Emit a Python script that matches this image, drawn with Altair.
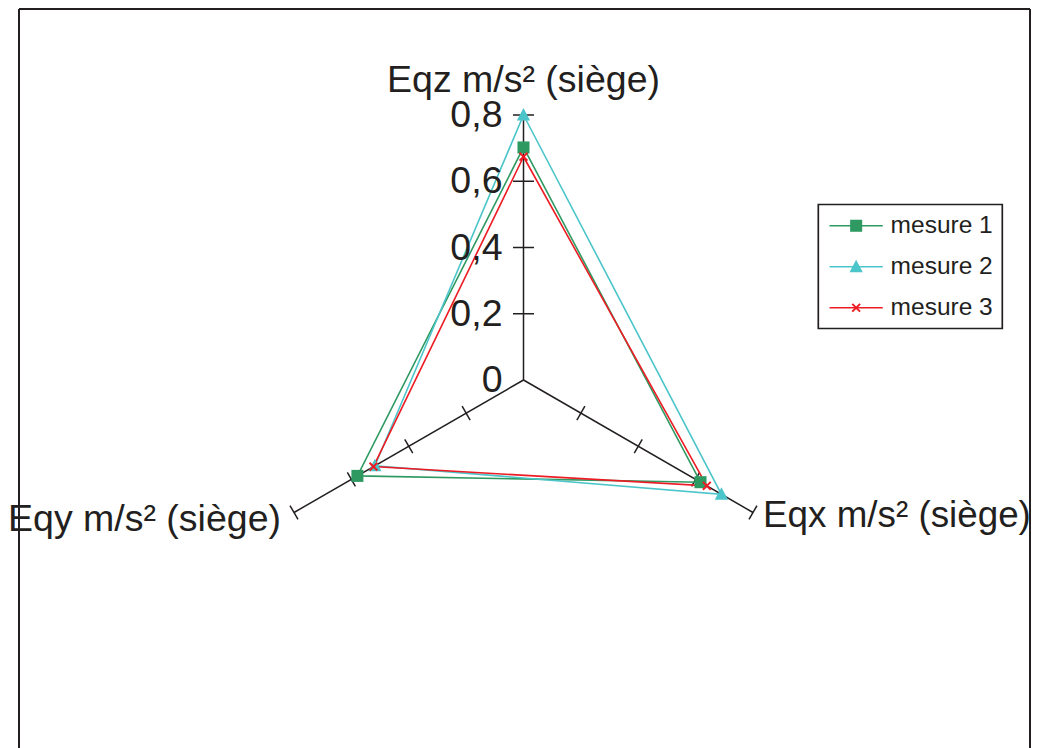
import altair as alt
import pandas as pd

# ---- data ----
categories = ["Eqz m/s² (siège)", "Eqx m/s² (siège)", "Eqy m/s² (siège)"]
series = ["mesure 1", "mesure 2", "mesure 3"]
mesure_1 = [0.702, 0.617, 0.579]
mesure_2 = [0.800, 0.690, 0.518]
mesure_3 = [0.674, 0.639, 0.523]
tick_values = [0, 0.2, 0.4, 0.6, 0.8]
tick_labels = ["0", "0,2", "0,4", "0,6", "0,8"]
colors = ["#2e9a62", "#4bc5c9", "#ed1c24"]

# marker shapes (custom symbol paths in the [-1, 1] box)
shape_paths = [
    "M-0.86,-0.86H0.86V0.86H-0.86Z",
    "M0,-1L0.95,0.78L-0.95,0.78Z",
    "M-0.66,-0.46L-0.46,-0.66L0.66,0.46L0.46,0.66Z M0.46,-0.66L0.66,-0.46L-0.46,0.66L-0.66,0.46Z",
]

# ---- layout / scale settings ----
W, H = 1011, 739
PX = 331.25            # pixels per unit of the radial scale
CX, CY = 504.5, 371.0  # centre of the radar inside the plot area
x_dom = [-CX / PX, (W - CX) / PX]
y_dom = [-(H - CY) / PX, CY / PX]
xs = alt.Scale(domain=x_dom, nice=False, zero=False)
ys = alt.Scale(domain=y_dom, nice=False, zero=False)
X = alt.X("x:Q", scale=xs, axis=None)
Y = alt.Y("y:Q", scale=ys, axis=None)
INK = "#231f20"
FONT = "Liberation Sans"
FS = 37.5
theta_expr = "PI/2 - 2*PI*datum.i/3"
rmax = max(tick_values)

# ---- tables built from the arrays ----
values = {s: v for s, v in zip(series, [mesure_1, mesure_2, mesure_3])}
poly_rows, pt_rows = [], []
for s in series:
    for k in range(len(categories) + 1):
        i = k % len(categories)
        poly_rows.append({"serie": s, "k": k, "i": i, "r": values[s][i]})
    for i in range(len(categories)):
        pt_rows.append({"serie_pt": s, "i": i, "r": values[s][i]})
poly_df = pd.DataFrame(poly_rows)
pt_df = pd.DataFrame(pt_rows)
cat_df = pd.DataFrame({"i": list(range(len(categories))), "label": categories, "r": rmax})
tick_df = pd.DataFrame([{"i": i, "t": t} for i in range(len(categories)) for t in tick_values if t > 0])
tlab_df = pd.DataFrame({"t": tick_values, "label": tick_labels})
one = pd.DataFrame({"a": [0]})

# spokes
spokes = alt.Chart(cat_df).transform_calculate(
    theta=theta_expr, x="0", y="0",
    x2=f"{rmax}*cos(datum.theta)", y2=f"{rmax}*sin(datum.theta)",
).mark_rule(color=INK, strokeWidth=1.5).encode(x=X, y=Y, x2="x2:Q", y2="y2:Q")

# tick marks on each spoke
ticks = alt.Chart(tick_df).transform_calculate(
    theta=theta_expr,
    hl=f"(datum.i == 0 ? 10.5 : 8) / {PX}",
    cx="datum.t*cos(datum.theta)", cy="datum.t*sin(datum.theta)",
    x="datum.cx + datum.hl*sin(datum.theta)", y="datum.cy - datum.hl*cos(datum.theta)",
    x2="datum.cx - datum.hl*sin(datum.theta)", y2="datum.cy + datum.hl*cos(datum.theta)",
).mark_rule(color=INK, strokeWidth=1.5).encode(x=X, y=Y, x2="x2:Q", y2="y2:Q")

# tick labels on the first spoke
tick_text = alt.Chart(tlab_df).transform_calculate(x="0", y="datum.t").mark_text(
    align="right", baseline="middle", dx=-21, dy=1, font=FONT, fontSize=FS, color=INK
).encode(x=X, y=Y, text="label:N")

legend_common = dict(
    title=None, orient="none", legendX=799.3, legendY=195.5,
    symbolSize=196, symbolOffset=16.6, labelOffset=22.2,
    labelFont=FONT, labelFontSize=24.5, labelColor=INK,
    padding=9, rowPadding=16,
)

polys = alt.Chart(poly_df).transform_calculate(
    theta=theta_expr, x="datum.r*cos(datum.theta)", y="datum.r*sin(datum.theta)"
).mark_line(strokeWidth=1.6).encode(
    x=X, y=Y, order="k:Q",
    stroke=alt.Stroke("serie:N", scale=alt.Scale(domain=series, range=colors),
                      legend=alt.Legend(symbolType="M-3.8,0H3.8", symbolStrokeWidth=1.6,
                                        strokeColor=INK, **legend_common)),
)

leg_b = alt.Legend(symbolStrokeWidth=0, labelOpacity=0, **legend_common)
points = alt.Chart(pt_df).transform_calculate(
    theta=theta_expr, x="datum.r*cos(datum.theta)", y="datum.r*sin(datum.theta)"
).mark_point(filled=True, size=196, opacity=1, strokeWidth=0).encode(
    x=X, y=Y,
    fill=alt.Fill("serie_pt:N", scale=alt.Scale(range=colors), legend=leg_b),
    shape=alt.Shape("serie_pt:N", scale=alt.Scale(range=shape_paths), legend=leg_b),
)

def cat_label(idx, fs=FS, **kw):
    return alt.Chart(cat_df).transform_filter(f"datum.i == {idx}").transform_calculate(
        theta=theta_expr, x="datum.r*cos(datum.theta)", y="datum.r*sin(datum.theta)"
    ).mark_text(font=FONT, fontSize=fs, color=INK, baseline="alphabetic", **kw).encode(
        x=X, y=Y, text="label:N")

lab_z = cat_label(0, align="center", dx=0, dy=-23)
lab_x = cat_label(1, fs=36.8, align="left", dx=10, dy=14)
lab_y = cat_label(2, align="right", dx=-13, dy=18)

frame_l = alt.Chart(one).mark_rule(color=INK, strokeWidth=2).encode(
    x=alt.value(0), y=alt.value(0), y2=alt.value(H))
frame_t = alt.Chart(one).mark_rule(color=INK, strokeWidth=2).encode(
    x=alt.value(0), x2=alt.value(W), y=alt.value(0))
frame_r = alt.Chart(one).mark_rule(color=INK, strokeWidth=2).encode(
    x=alt.value(W), y=alt.value(0), y2=alt.value(H))

chart = alt.layer(
    spokes, ticks, polys, points, tick_text, lab_z, lab_x, lab_y, frame_l, frame_t, frame_r
).properties(
    width=W, height=H, autosize="none",
    padding={"left": 11, "top": 1, "right": 2, "bottom": 0},
    background="white",
).configure_view(stroke=None).configure_legend(strokeWidth=1.7)

chart.save("out.html", embed_options={"renderer": "svg", "actions": False})
